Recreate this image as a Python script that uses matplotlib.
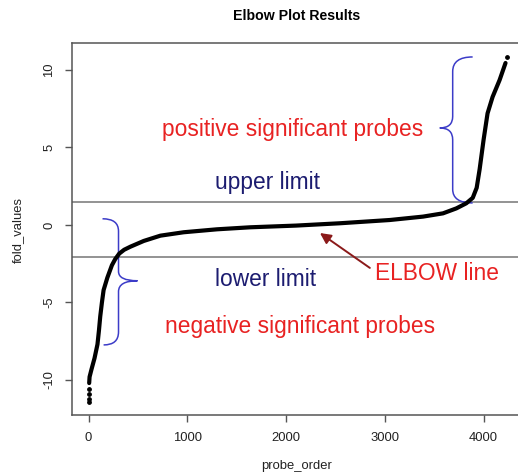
import matplotlib
matplotlib.use("Agg")
import matplotlib.pyplot as plt
from matplotlib.path import Path
from matplotlib.patches import PathPatch

plt.rcParams['font.family'] = ['Liberation Sans', 'DejaVu Sans']

# ---- data ----
probe_order = [6, 10, 30, 60, 90, 105, 118, 135, 152, 190, 236, 270, 310, 360, 424,
               559, 727, 963, 1300, 1636, 2100, 2545, 3050, 3387, 3589, 3724,
               3825, 3890, 3930, 3960, 4000, 4040, 4091, 4162, 4222]
fold_values = [-10.2, -9.8, -9.3, -8.6, -7.7, -6.8, -5.9, -5.0, -4.2, -3.4, -2.6, -2.2,
               -1.85, -1.6, -1.4, -1.03, -0.69, -0.47, -0.28, -0.15, -0.04, 0.11, 0.32,
               0.54, 0.75, 1.07, 1.4, 1.75, 2.4, 3.6, 5.5, 7.2, 8.26, 9.35, 10.45]
tail_order = [1, 2, 3, 4, 4232]
tail_values = [-11.4, -11.2, -10.9, -10.6, 10.84]
upper_limit = 1.5
lower_limit = -2.05
x_ticks = [0, 1000, 2000, 3000, 4000]
y_ticks = [-10, -5, 0, 5, 10]

W, H = 518, 475
fig = plt.figure(figsize=(W / 100, H / 100), dpi=100)
ax = fig.add_axes([72 / W, 1 - 415 / H, (523 - 72) / W, (415 - 43) / H])
ax.set_xlim(-168, 4399)
ax.set_ylim(-12.26, 11.74)

ax.axhline(upper_limit, color='#8a8a8a', lw=1.3, zorder=1)
ax.axhline(lower_limit, color='#8a8a8a', lw=1.3, zorder=1)

ax.plot(probe_order, fold_values, color='black', lw=3.0, solid_capstyle='round',
        solid_joinstyle='round', zorder=3)
ax.scatter(tail_order, tail_values, s=6, color='black', zorder=3)

brace_col = '#3c3cc8'

def brace(points_codes):
    verts = [p for p, c in points_codes]
    codes = [c for p, c in points_codes]
    ax.add_patch(PathPatch(Path(verts, codes), fill=False, edgecolor=brace_col, lw=1.1, zorder=2))

M, C3, L = Path.MOVETO, Path.CURVE3, Path.LINETO
# right brace (positive), in data coords
xv, xe, xt = 3687, 3889, 3556
brace([((xe, 10.84), M), ((xv, 10.84), C3), ((xv, 9.9), C3), ((xv, 7.0), L),
       ((xv, 6.26), C3), ((xt, 6.26), C3), ((xv, 6.26), C3), ((xv, 5.5), C3),
       ((xv, 2.3), L), ((xv, 1.42), C3), ((xe, 1.42), C3)])
# left brace (negative)
xv2, xe_t, xe_b, xt2 = 303, 141, 152, 495
brace([((xe_t, 0.4), M), ((xv2, 0.4), C3), ((xv2, -0.4), C3), ((xv2, -3.0), L),
       ((xv2, -3.6), C3), ((xt2, -3.6), C3), ((xv2, -3.6), C3), ((xv2, -4.3), C3),
       ((xv2, -6.9), L), ((xv2, -7.74), C3), ((xe_b, -7.74), C3)])

red = '#e82222'
navy = '#1c1c70'
fs = 16.4
ax.text(2066, 6.13, 'positive significant probes', color=red, fontsize=fs, ha='center', va='center')
ax.text(1808, 2.71, 'upper limit', color=navy, fontsize=fs, ha='center', va='center')
ax.text(1793, -3.55, 'lower limit', color=navy, fontsize=fs, ha='center', va='center')
ax.text(3530, -3.1, 'ELBOW line', color=red, fontsize=fs, ha='center', va='center')
ax.text(2141, -6.58, 'negative significant probes', color=red, fontsize=fs, ha='center', va='center')

ax.annotate('', xy=(2343, -0.52), xytext=(2848, -2.77),
            arrowprops=dict(arrowstyle='-|>', color='#8b1a1a', lw=1.4, mutation_scale=16,
                            shrinkA=0, shrinkB=0))

ax.set_xticks(x_ticks)
ax.set_yticks(y_ticks)
ax.set_xticklabels([str(v) for v in x_ticks], fontsize=9.4, color='#222222')
ax.set_yticklabels([str(v) for v in y_ticks], fontsize=9.4, color='#222222', rotation=90, va='center')
ax.tick_params(axis='both', length=5, width=1, color='#555555', pad=7)
for s in ax.spines.values():
    s.set_color('#555555')
    s.set_linewidth(1.1)

fig.text(297 / W, 1 - 16 / H, 'Elbow Plot Results', fontsize=10.2, fontweight='bold', ha='center', va='center')
fig.text(297 / W, 1 - 466 / H, 'probe_order', fontsize=9.4, ha='center', va='center', color='#222222')
fig.text(18 / W, 1 - 230 / H, 'fold_values', fontsize=9.4, ha='center', va='center', rotation=90, color='#222222')

fig.savefig('out.png', dpi=100)
